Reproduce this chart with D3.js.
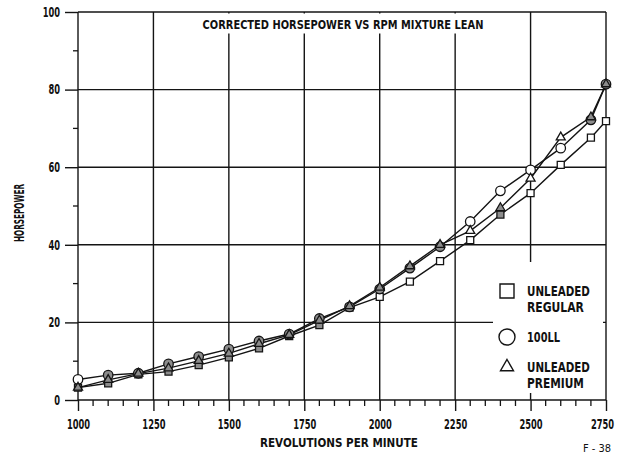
<!DOCTYPE html>
<html><head><meta charset="utf-8">
<script src="https://cdn.jsdelivr.net/npm/d3@7"></script>
<style>
html,body{margin:0;padding:0;background:#fff;}
svg text{font-family:"Liberation Sans Narrow","Arial Narrow","DejaVu Sans Condensed",sans-serif;font-weight:bold;fill:#111;}
</style></head>
<body>
<svg id="chart" width="618" height="456"></svg>
<script>
// ---- data ----
const rpm = [1000,1100,1200,1300,1400,1500,1600,1700,1800,1900,2000,2100,2200,2300,2400,2500,2600,2700,2750];
const hpRegular = [3.2,4.3,6.6,7.3,9.0,11.0,13.3,16.5,19.3,23.8,26.6,30.5,35.8,41.2,47.8,53.3,60.6,67.6,71.9];
const hp100LL   = [5.3,6.4,6.9,9.3,11.2,13.1,15.2,17.0,21.0,24.0,28.6,34.0,39.5,46.0,53.9,59.3,64.9,72.2,81.4];
const hpPremium = [3.2,5.2,6.8,8.2,10.1,12.0,14.5,16.8,20.5,24.2,29.0,34.5,40.0,43.6,49.5,57.1,67.7,72.9,81.4];
const xTicks = [1000,1250,1500,1750,2000,2250,2500,2750];
const xMinor = d3.range(1000,2751,50);
const yTicks = [0,20,40,60,80,100];
const yMinor = [10,30,50,70,90];
const title = "CORRECTED HORSEPOWER VS RPM MIXTURE LEAN";

const series = [
  {name:"regular", shape:"square", values:hpRegular, legend:["UNLEADED","REGULAR"]},
  {name:"100ll", shape:"circle", values:hp100LL, legend:["100LL"]},
  {name:"premium", shape:"triangle", values:hpPremium, legend:["UNLEADED","PREMIUM"]}
];

const svg = d3.select("#chart");
const x = d3.scaleLinear().domain([1000,2750]).range([78,606]);
const y = d3.scaleLinear().domain([0,100]).range([400,12]);
const ink = "#141414";
const charW = 5.8;

// horizontally compress a text to a target width (keeps its anchor point)
function fit(node, target, pre){
  const w = node.getComputedTextLength();
  const k = w > 0 ? Math.min(1, target / w) : 1;
  const ax = +(node.getAttribute("x") || 0);
  node.setAttribute("transform", (pre||"") + ` translate(${ax},0) scale(${k},1) translate(${-ax},0)`);
}

// grid
const g = svg.append("g");
g.selectAll("line.v").data(xTicks).join("line")
  .attr("x1",d=>x(d)).attr("x2",d=>x(d)).attr("y1",y(100)).attr("y2",y(0))
  .attr("stroke",ink).attr("stroke-width",1.4);
g.selectAll("line.h").data(yTicks).join("line")
  .attr("x1",x(1000)).attr("x2",x(2750)).attr("y1",d=>y(d)).attr("y2",d=>y(d))
  .attr("stroke",ink).attr("stroke-width",1.4);

// title background and title
svg.append("rect").attr("x",x(1375)).attr("y",y(100)+1.5).attr("width",x(2430)-x(1375)).attr("height",20).attr("fill","#fff");
svg.append("text").attr("x",343).attr("y",29).attr("text-anchor","middle")
  .attr("font-size",13).text(title).each(function(){fit(this,281);});

// legend background
svg.append("rect").attr("x",493).attr("y",262).attr("width",110).attr("height",131).attr("fill","#fff");

// axes ticks
const xAxis = d3.axisBottom(x).tickValues(xTicks).tickSize(11).tickPadding(8).tickFormat(d3.format("d"));
const xa = svg.append("g").attr("transform",`translate(0,${y(0)})`).call(xAxis);
xa.select(".domain").remove();
xa.selectAll(".tick line").attr("stroke",ink).attr("stroke-width",1.4);
xa.selectAll(".tick text").attr("font-size",13.5).attr("fill",ink).style("font-family",null)
  .attr("x",d=>d===2750?-4:0)
  .each(function(d){fit(this,String(d).length*charW);});
svg.append("g").selectAll("line").data(xMinor.filter(v=>!xTicks.includes(v))).join("line")
  .attr("x1",d=>x(d)).attr("x2",d=>x(d)).attr("y1",y(0)).attr("y2",y(0)+6)
  .attr("stroke",ink).attr("stroke-width",1.3);

const yAxis = d3.axisLeft(y).tickValues(yTicks).tickSize(13).tickPadding(5).tickFormat(d3.format("d"));
const ya = svg.append("g").attr("transform",`translate(${x(1000)},0)`).call(yAxis);
ya.select(".domain").remove();
ya.selectAll(".tick line").attr("stroke",ink).attr("stroke-width",1.4);
ya.selectAll(".tick text").attr("font-size",13.5).attr("fill",ink).style("font-family",null)
  .each(function(d){fit(this,String(d).length*charW);});
svg.append("g").selectAll("line").data(yMinor).join("line")
  .attr("x1",x(1000)-5).attr("x2",x(1000)).attr("y1",d=>y(d)).attr("y2",d=>y(d))
  .attr("stroke",ink).attr("stroke-width",1.3);

// axis titles
svg.append("text").attr("text-anchor","middle")
  .attr("font-size",13.5).text("HORSEPOWER").each(function(){fit(this,58,"translate(24,213) rotate(-90)");});
svg.append("text").attr("x",339).attr("y",447).attr("text-anchor","middle")
  .attr("font-size",13).text("REVOLUTIONS PER MINUTE").each(function(){fit(this,158);});
svg.append("text").attr("x",597).attr("y",452).attr("text-anchor","middle")
  .attr("font-size",11).style("font-weight","normal").text("F - 38");

// series lines
const line = d3.line().x((d,i)=>x(rpm[i])).y(d=>y(d));
series.forEach(s=>{
  svg.append("path").datum(s.values).attr("d",line).attr("fill","none")
    .attr("stroke",ink).attr("stroke-width",1.4);
});

// markers
function shapePath(shape, size){
  if(shape==="square") return d3.symbol(d3.symbolSquare, size*size)();
  if(shape==="circle") return d3.symbol(d3.symbolCircle, Math.PI*(size/2)*(size/2))();
  return d3.symbol(d3.symbolTriangle, Math.sqrt(3)/4*size*size)();
}
const sizes = {square:7, circle:9.5, triangle:9};
series.forEach((s,si)=>{
  svg.append("g").selectAll("path").data(s.values).join("path")
    .attr("transform",(d,i)=>`translate(${x(rpm[i])},${y(d)})`)
    .attr("d",shapePath(s.shape,sizes[s.shape]))
    .attr("fill",(d,i)=>{
      const near = series.some((o,oi)=>oi!==si && Math.abs(o.values[i]-d)<1.9);
      return near ? "#8c8c8c" : "#fff";
    })
    .attr("stroke",ink).attr("stroke-width",1.3);
});

// legend
const legY = [291, 337, 367];
const legW = {"UNLEADED":63,"REGULAR":57,"100LL":33,"PREMIUM":57};
series.forEach((s,i)=>{
  const big = {square:14, circle:16, triangle:13}[s.shape];
  svg.append("path").attr("transform",`translate(507,${legY[i]})`)
    .attr("d",shapePath(s.shape,big)).attr("fill","#fff").attr("stroke",ink).attr("stroke-width",1.4);
  s.legend.forEach((t,j)=>{
    svg.append("text").attr("x",527).attr("y",legY[i]+5+j*16).attr("font-size",13.5)
      .text(t).each(function(){fit(this,legW[t]);});
  });
});
</script>
</body></html>
